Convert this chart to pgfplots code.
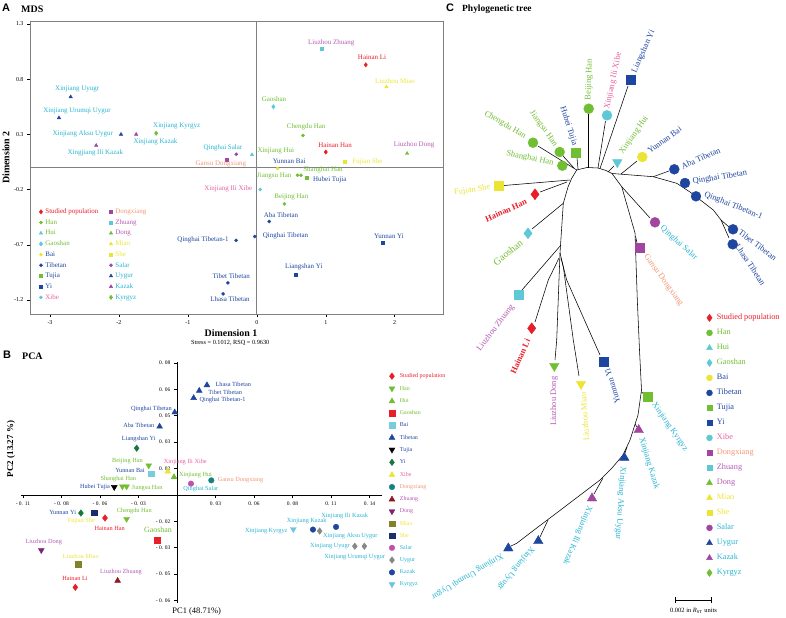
\documentclass[border=0pt]{standalone}
\usepackage{fontspec}
\setmainfont{Liberation Serif}
\newfontfamily\arialfont{Liberation Sans}
\usepackage{pgfplots}
\pgfplotsset{compat=1.18}
\newcommand{\fs}[1]{\fontsize{#1}{#1}\selectfont}
\definecolor{cRed}{RGB}{232,30,40}
\definecolor{cGreen}{RGB}{112,190,50}
\definecolor{cCyan}{RGB}{95,200,215}
\definecolor{cYellow}{RGB}{236,228,50}
\definecolor{cBlue}{RGB}{30,70,160}
\definecolor{cPurple}{RGB}{160,70,160}
\definecolor{tPink}{RGB}{232,96,160}
\definecolor{tSalmon}{RGB}{240,150,120}
\definecolor{tOrchid}{RGB}{180,90,180}
\definecolor{tCyan}{RGB}{40,180,210}
\definecolor{pDkGreen}{RGB}{20,120,60}
\definecolor{pTeal}{RGB}{20,130,130}
\definecolor{pDkRed}{RGB}{140,25,35}
\definecolor{pViolet}{RGB}{120,35,120}
\definecolor{pOlive}{RGB}{130,130,40}
\definecolor{pNavy}{RGB}{30,45,110}
\definecolor{pMagenta}{RGB}{190,80,180}
\definecolor{pGray}{RGB}{135,135,135}
\definecolor{pLtBlue}{RGB}{110,195,225}
\definecolor{pBai}{RGB}{120,205,220}
\tikzset{
  lab/.style={font=\fs{7}, inner sep=0pt},
  plab/.style={font=\fs{6.3}, inner sep=0pt},
  tl/.style={font=\fs{8.5}, inner sep=0.5bp},
}
\pgfplotsset{
 mdsStud/.style={color=cRed, mark=diamond*, mark size=2.2},
 mdsHan/.style={color=cGreen, mark=*, mark size=1.6},
 mdsHui/.style={color=cCyan, mark=triangle*, mark size=2},
 mdsGao/.style={color=cCyan, mark=diamond*, mark size=2.2},
 mdsBai/.style={color=cYellow, mark=*, mark size=1.6},
 mdsTib/.style={color=cBlue, mark=*, mark size=1.6},
 mdsTuj/.style={color=cGreen, mark=square*, mark size=1.5},
 mdsYi/.style={color=cBlue, mark=square*, mark size=1.5},
 mdsXib/.style={color=cCyan, mark=*, mark size=1.6},
 mdsDxg/.style={color=cPurple, mark=square*, mark size=1.5},
 mdsZhu/.style={color=cCyan, mark=square*, mark size=1.5},
 mdsDon/.style={color=cGreen, mark=triangle*, mark size=2},
 mdsMia/.style={color=cYellow, mark=triangle*, mark size=2},
 mdsShe/.style={color=cYellow, mark=square*, mark size=1.5},
 mdsSal/.style={color=cPurple, mark=*, mark size=1.6},
 mdsUyg/.style={color=cBlue, mark=triangle*, mark size=2},
 mdsKaz/.style={color=cPurple, mark=triangle*, mark size=2},
 mdsKyr/.style={color=cGreen, mark=diamond*, mark size=2.2},
 pStud/.style={color=cRed, mark=diamond*, mark size=3.3},
 pHan/.style={color=cGreen, mark=triangle*, mark size=3.4, mark options={rotate=180}},
 pHui/.style={color=cGreen, mark=triangle*, mark size=3.4},
 pGao/.style={color=cRed, mark=square*, mark size=2.8},
 pBai/.style={color=pBai, mark=square*, mark size=2.8},
 pTib/.style={color=cBlue, mark=triangle*, mark size=3.4},
 pTuj/.style={color=black, mark=triangle*, mark size=3.4, mark options={rotate=180}},
 pYi/.style={color=pDkGreen, mark=diamond*, mark size=3.3},
 pXib/.style={color=cYellow, mark=triangle*, mark size=3.4},
 pDxg/.style={color=pTeal, mark=*, mark size=2.8},
 pZhu/.style={color=pDkRed, mark=triangle*, mark size=3.4},
 pDon/.style={color=pViolet, mark=triangle*, mark size=3.4, mark options={rotate=180}},
 pMia/.style={color=pOlive, mark=square*, mark size=2.8},
 pShe/.style={color=pNavy, mark=square*, mark size=2.8},
 pSal/.style={color=pMagenta, mark=*, mark size=2.8},
 pUyg/.style={color=pGray, mark=diamond*, mark size=3.3},
 pKaz/.style={color=cBlue, mark=*, mark size=2.8},
 pKyr/.style={color=pLtBlue, mark=triangle*, mark size=3.4, mark options={rotate=180}},
 tStud/.style={color=cRed, mark=diamond*, mark size=5.5},
 tHan/.style={color=cGreen, mark=*, mark size=5},
 tHui/.style={color=cCyan, mark=triangle*, mark size=5.5, mark options={rotate=180}},
 tGao/.style={color=cCyan, mark=diamond*, mark size=5.5},
 tBai/.style={color=cYellow, mark=*, mark size=5},
 tTib/.style={color=cBlue, mark=*, mark size=5},
 tTuj/.style={color=cGreen, mark=square*, mark size=4.5},
 tYi/.style={color=cBlue, mark=square*, mark size=4.5},
 tXib/.style={color=cCyan, mark=*, mark size=5},
 tDxg/.style={color=cPurple, mark=square*, mark size=4.5},
 tZhu/.style={color=cCyan, mark=square*, mark size=4.5},
 tDon/.style={color=cGreen, mark=triangle*, mark size=5.5, mark options={rotate=180}},
 tMia/.style={color=cYellow, mark=triangle*, mark size=5.5, mark options={rotate=180}},
 tShe/.style={color=cYellow, mark=square*, mark size=4.5},
 tSal/.style={color=cPurple, mark=*, mark size=5},
 tUyg/.style={color=cBlue, mark=triangle*, mark size=5.5},
 tKaz/.style={color=cPurple, mark=triangle*, mark size=5.5},
 tKyr/.style={color=cGreen, mark=square*, mark size=4.5},
 lStud/.style={color=cRed, mark=diamond*, mark size=3.6},
 lHan/.style={color=cGreen, mark=*, mark size=3},
 lHui/.style={color=cCyan, mark=triangle*, mark size=3.4},
 lGao/.style={color=cCyan, mark=diamond*, mark size=3.6},
 lBai/.style={color=cYellow, mark=*, mark size=3},
 lTib/.style={color=cBlue, mark=*, mark size=3},
 lTuj/.style={color=cGreen, mark=square*, mark size=2.8},
 lYi/.style={color=cBlue, mark=square*, mark size=2.8},
 lXib/.style={color=cCyan, mark=*, mark size=3},
 lDxg/.style={color=cPurple, mark=square*, mark size=2.8},
 lZhu/.style={color=cCyan, mark=square*, mark size=2.8},
 lDon/.style={color=cGreen, mark=triangle*, mark size=3.4},
 lMia/.style={color=cYellow, mark=triangle*, mark size=3.4},
 lShe/.style={color=cYellow, mark=square*, mark size=2.8},
 lSal/.style={color=cPurple, mark=*, mark size=3},
 lUyg/.style={color=cBlue, mark=triangle*, mark size=3.4},
 lKaz/.style={color=cPurple, mark=triangle*, mark size=3.4},
 lKyr/.style={color=cGreen, mark=diamond*, mark size=3.6},
 br/.style={black, line width=0.55bp, forget plot, mark=none},
}
\begin{document}
\begin{tikzpicture}[x=1bp,y=1bp]
\useasboundingbox (0bp,0bp) rectangle (786bp,618bp);
% ---------------- A: MDS ----------------
\begin{axis}[
  at={(30bp,304bp)}, anchor=south west, scale only axis, width=413bp, height=293bp,
  xmin=-3.29, xmax=2.70, ymin=-1.327, ymax=1.327,
  xtick={-3,-2,-1,0,1,2}, ytick={-1.2,-0.7,-0.2,0.3,0.8,1.3},
  tick align=outside, tick pos=left, major tick length=3bp,
  axis line style={draw=gray, line width=0.9bp},
  tick style={black, line width=0.5bp},
  /pgf/number format/assume math mode=true,
  ticklabel style={font=\fs{6}},
  yticklabel style={/pgf/number format/.cd, fixed, fixed zerofill, precision=1},
  clip=false,
  legend columns=9, transpose legend, legend cell align=left,
  legend image code/.code={\draw[#1] plot coordinates {(0bp,0bp)};},
  legend style={at={(axis cs:-3.159,-0.370)}, anchor=north west, draw=none, fill=none,
    font=\fs{7}, row sep=4.2bp, inner sep=0pt,
    nodes={inner sep=0pt, text height=5bp, text depth=1.5bp},
    /tikz/every odd column/.append style={column sep=2.7bp},
    /tikz/every even column/.append style={column sep=11bp}},
]
\addplot[gray, line width=0.9bp, forget plot] coordinates {(0,-1.327) (0,1.327)};
\addplot[gray, line width=0.9bp, forget plot] coordinates {(-3.29,0) (2.70,0)};
\addplot[only marks, mdsStud, forget plot] coordinates {(1.00,0.14) (1.58,0.93)};
\addplot[only marks, mdsHan, forget plot] coordinates {(0.67,0.29) (0.64,-0.07) (0.59,-0.07) (0.40,-0.33)};
\addplot[only marks, mdsHui, forget plot] coordinates {(-0.07,0.115)};
\addplot[only marks, mdsGao, forget plot] coordinates {(0.24,0.55)};
\addplot[only marks, mdsBai, forget plot] coordinates {(0.30,-0.01)};
\addplot[only marks, mdsTib, forget plot] coordinates {(0.18,-0.49) (-0.03,-0.625) (-0.30,-0.66) (-0.42,-1.045) (-0.49,-1.145)};
\addplot[only marks, mdsTuj, forget plot] coordinates {(0.73,-0.095)};
\addplot[only marks, mdsYi, forget plot] coordinates {(1.83,-0.68) (0.57,-0.97)};
\addplot[only marks, mdsXib, forget plot] coordinates {(0.05,-0.20)};
\addplot[only marks, mdsDxg, forget plot] coordinates {(-0.44,0.075)};
\addplot[only marks, mdsZhu, forget plot] coordinates {(0.94,1.075)};
\addplot[only marks, mdsDon, forget plot] coordinates {(2.18,0.127)};
\addplot[only marks, mdsMia, forget plot] coordinates {(1.88,0.73)};
\addplot[only marks, mdsShe, forget plot] coordinates {(1.28,0.05)};
\addplot[only marks, mdsSal, forget plot] coordinates {(-0.30,0.12)};
\addplot[only marks, mdsUyg, forget plot] coordinates {(-2.70,0.64) (-2.87,0.45) (-1.97,0.30)};
\addplot[only marks, mdsKaz, forget plot] coordinates {(-2.33,0.20) (-1.75,0.30)};
\addplot[only marks, mdsKyr, forget plot] coordinates {(-1.46,0.31)};
\addlegendimage{mdsStud}\addlegendentry{\textcolor{cRed}{Studied population}}
\addlegendimage{mdsHan}\addlegendentry{\textcolor{cGreen}{Han}}
\addlegendimage{mdsHui}\addlegendentry{\textcolor{cGreen}{Hui}}
\addlegendimage{mdsGao}\addlegendentry{\textcolor{cGreen}{Gaoshan}}
\addlegendimage{mdsBai}\addlegendentry{\textcolor{cBlue}{Bai}}
\addlegendimage{mdsTib}\addlegendentry{\textcolor{cBlue}{Tibetan}}
\addlegendimage{mdsTuj}\addlegendentry{\textcolor{cBlue}{Tujia}}
\addlegendimage{mdsYi}\addlegendentry{\textcolor{cBlue}{Yi}}
\addlegendimage{mdsXib}\addlegendentry{\textcolor{tPink}{Xibe}}
\addlegendimage{mdsDxg}\addlegendentry{\textcolor{tSalmon}{Dongxiang}}
\addlegendimage{mdsZhu}\addlegendentry{\textcolor{tOrchid}{Zhuang}}
\addlegendimage{mdsDon}\addlegendentry{\textcolor{tOrchid}{Dong}}
\addlegendimage{mdsMia}\addlegendentry{\textcolor{cYellow}{Miao}}
\addlegendimage{mdsShe}\addlegendentry{\textcolor{cYellow}{She}}
\addlegendimage{mdsSal}\addlegendentry{\textcolor{tCyan}{Salar}}
\addlegendimage{mdsUyg}\addlegendentry{\textcolor{tCyan}{Uygur}}
\addlegendimage{mdsKaz}\addlegendentry{\textcolor{tCyan}{Kazak}}
\addlegendimage{mdsKyr}\addlegendentry{\textcolor{tCyan}{Kyrgyz}}
\end{axis}
% ---------------- B: PCA ----------------
\begin{axis}[
  at={(21bp,15bp)}, anchor=south west, scale only axis, width=360.7bp, height=241bp,
  xmin=-0.1114, xmax=0.1462, ymin=-0.0655, ymax=0.0805,
  axis lines=middle, axis line style={-, black, line width=0.5bp},
  scaled ticks=false,
  xtick={-0.11,-0.0825,-0.055,-0.0275,0.0275,0.055,0.0825,0.11,0.1375},
  xticklabels={- 0. 11,- 0. 08,- 0. 06,- 0. 03,0. 03,0. 06,0. 08,0. 11,0. 14},
  ytick={-0.064,-0.048,-0.032,-0.016,0.016,0.032,0.048,0.064,0.08},
  yticklabels={- 0. 06,- 0. 05,- 0. 03,- 0. 02,0. 02,0. 03,0. 05,0. 06,0. 08},
  tick align=outside, major tick length=3bp, tick style={black, line width=0.5bp},
  ticklabel style={font=\fs{5.5}},
  clip=false,
  legend cell align=left,
  legend image code/.code={\draw[#1] plot coordinates {(0bp,0bp)};},
  legend style={at={(axis cs:0.1513,0.0740)}, anchor=north west, draw=none, fill=none,
    font=\fs{6}, row sep=6bp, inner sep=0pt,
    nodes={inner sep=0pt, text height=4.5bp, text depth=1.5bp},
    /tikz/every odd column/.append style={column sep=5bp}},
]
\addplot[only marks, pStud, forget plot] coordinates {(-0.0514,-0.014) (-0.0726,-0.056)};
\addplot[only marks, pHan, forget plot] coordinates {(-0.0202,0.0178) (-0.039,0.0051) (-0.036,0.0051) (-0.036,-0.0146)};
\addplot[only marks, pHui, forget plot] coordinates {(-0.0021,0.0108)};
\addplot[only marks, pGao, forget plot] coordinates {(-0.0141,-0.0275)};
\addplot[only marks, pBai, forget plot] coordinates {(-0.0186,0.0128)};
\addplot[only marks, pTib, forget plot] coordinates {(0.0214,0.0665) (0.0159,0.0631) (0.0119,0.0587) (-0.0016,0.050) (-0.0124,0.0414)};
\addplot[only marks, pTuj, forget plot] coordinates {(-0.0448,0.0047)};
\addplot[only marks, pYi, forget plot] coordinates {(-0.0288,0.0283) (-0.0686,-0.011)};
\addplot[only marks, pXib, forget plot] coordinates {(-0.0066,0.0142)};
\addplot[only marks, pDxg, forget plot] coordinates {(0.0245,0.0088)};
\addplot[only marks, pZhu, forget plot] coordinates {(-0.0424,-0.052)};
\addplot[only marks, pDon, forget plot] coordinates {(-0.0969,-0.0335)};
\addplot[only marks, pMia, forget plot] coordinates {(-0.0707,-0.042)};
\addplot[only marks, pShe, forget plot] coordinates {(-0.0593,-0.0108)};
\addplot[only marks, pSal, forget plot] coordinates {(0.010,0.0068)};
\addplot[only marks, pUyg, forget plot] coordinates {(0.1019,-0.0219) (0.127,-0.0311) (0.1338,-0.0311)};
\addplot[only marks, pKaz, forget plot] coordinates {(0.0971,-0.021) (0.1136,-0.0194)};
\addplot[only marks, pKyr, forget plot] coordinates {(0.0831,-0.0208)};
\addlegendimage{pStud}\addlegendentry{\textcolor{cRed}{Studied population}}
\addlegendimage{pHan}\addlegendentry{\textcolor{cGreen}{Han}}
\addlegendimage{pHui}\addlegendentry{\textcolor{cGreen}{Hui}}
\addlegendimage{pGao}\addlegendentry{\textcolor{cGreen}{Gaoshan}}
\addlegendimage{pBai}\addlegendentry{\textcolor{cBlue}{Bai}}
\addlegendimage{pTib}\addlegendentry{\textcolor{cBlue}{Tibetan}}
\addlegendimage{pTuj}\addlegendentry{\textcolor{cBlue}{Tujia}}
\addlegendimage{pYi}\addlegendentry{\textcolor{cBlue}{Yi}}
\addlegendimage{pXib}\addlegendentry{\textcolor{tPink}{Xibe}}
\addlegendimage{pDxg}\addlegendentry{\textcolor{tSalmon}{Dongxiang}}
\addlegendimage{pZhu}\addlegendentry{\textcolor{tOrchid}{Zhuang}}
\addlegendimage{pDon}\addlegendentry{\textcolor{tOrchid}{Dong}}
\addlegendimage{pMia}\addlegendentry{\textcolor{cYellow}{Miao}}
\addlegendimage{pShe}\addlegendentry{\textcolor{cYellow}{She}}
\addlegendimage{pSal}\addlegendentry{\textcolor{tCyan}{Salar}}
\addlegendimage{pUyg}\addlegendentry{\textcolor{tCyan}{Uygur}}
\addlegendimage{pKaz}\addlegendentry{\textcolor{tCyan}{Kazak}}
\addlegendimage{pKyr}\addlegendentry{\textcolor{tCyan}{Kyrgyz}}
\end{axis}
% ---------------- canvas: C tree + all texts ----------------
\begin{axis}[
  at={(0bp,0bp)}, anchor=south west, scale only axis, width=786bp, height=618bp,
  xmin=0, xmax=786, ymin=0, ymax=618, y dir=reverse, hide axis, clip=false,
  legend cell align=left,
  legend image code/.code={\draw[#1] plot coordinates {(0bp,0bp)};},
  legend style={at={(axis cs:706.3,313.7)}, anchor=north west, draw=none, fill=none,
    font=\fs{8.3}, row sep=7bp, inner sep=0pt,
    nodes={inner sep=0pt, text height=6bp, text depth=2bp},
    /tikz/every odd column/.append style={column sep=4.4bp}},
]
% tree branches
\addplot[br] coordinates {(560,253) (563.3,203.3) (568,187) (571.7,178.3) (576.7,170) (587,167.5) (598,168) (606,170.5) (612,173.5) (621.7,186.7) (635,233) (637.3,300) (639.5,350) (641.5,390) (638,415) (630,440) (623,455) (612,468) (600,480) (580,495.2) (560,510.4) (538,527) (516.7,543.3) (511,546)};
\addplot[br] coordinates {(612,173.5) (653.3,176.7) (676.7,183.3) (690,192) (713.3,210) (721,220) (729,227)};
\addplot[br] coordinates {(721,220) (729,238)};
\addplot[br] coordinates {(653.3,176.7) (669,171)};
\addplot[br] coordinates {(608,172) (614,166)};
\addplot[br] coordinates {(621,174) (637,161)};
\addplot[br] coordinates {(621.7,186.7) (650,218)};
\addplot[br] coordinates {(635.5,236) (637,243)};
\addplot[br] coordinates {(600,168.5) (628,86)};
\addplot[br] coordinates {(598,168) (605.5,121)};
\addplot[br] coordinates {(588.7,167.6) (588.7,114)};
\addplot[br] coordinates {(578,169) (577,158)};
\addplot[br] coordinates {(574,168) (563,156)};
\addplot[br] coordinates {(576.7,170) (538,146)};
\addplot[br] coordinates {(570,180) (504,185.5)};
\addplot[br] coordinates {(567,182) (540,192)};
\addplot[br] coordinates {(563.3,203.3) (532,229)};
\addplot[br] coordinates {(561,245) (522,290)};
\addplot[br] coordinates {(559,258) (548.3,280) (535,322)};
\addplot[br] coordinates {(560,253) (556.7,340) (555,360)};
\addplot[br] coordinates {(560,253) (563.3,266.7) (573.3,340) (579,376)};
\addplot[br] coordinates {(561,258) (566.7,280) (593.3,340) (600,355)};
\addplot[br] coordinates {(641.5,392) (645,395)};
\addplot[br] coordinates {(635,424) (637,427)};
\addplot[br] coordinates {(627,447) (625,453)};
\addplot[br] coordinates {(603,478) (594,494)};
\addplot[br] coordinates {(548,520) (540,537)};
% scale bar
\addplot[br] coordinates {(675.7,600) (711.7,600)};
\addplot[br] coordinates {(675.7,597) (675.7,603)};
\addplot[br] coordinates {(711.7,597) (711.7,603)};
% tree tips
\addplot[only marks, tStud, forget plot] coordinates {(535,194.3) (531.7,328.3)};
\addplot[only marks, tHan, forget plot] coordinates {(588.7,108.7) (559.7,152) (533,142.7) (562.3,165.7)};
\addplot[only marks, tHui, forget plot] coordinates {(617.3,162.3)};
\addplot[only marks, tGao, forget plot] coordinates {(528,233.3)};
\addplot[only marks, tBai, forget plot] coordinates {(642.3,157)};
\addplot[only marks, tTib, forget plot] coordinates {(674.3,169.3) (685,183) (696,196.3) (733,229.3) (732.7,244.3)};
\addplot[only marks, tTuj, forget plot] coordinates {(575.7,152.3)};
\addplot[only marks, tYi, forget plot] coordinates {(631,79.3) (603.7,361.3)};
\addplot[only marks, tXib, forget plot] coordinates {(607,115.3)};
\addplot[only marks, tDxg, forget plot] coordinates {(640,247.7)};
\addplot[only marks, tZhu, forget plot] coordinates {(518.3,294.7)};
\addplot[only marks, tDon, forget plot] coordinates {(554.3,366)};
\addplot[only marks, tMia, forget plot] coordinates {(581,384)};
\addplot[only marks, tShe, forget plot] coordinates {(498.7,186)};
\addplot[only marks, tSal, forget plot] coordinates {(655,222.3)};
\addplot[only marks, tUyg, forget plot] coordinates {(624.3,457.7) (538.3,541) (508.3,548.3)};
\addplot[only marks, tKaz, forget plot] coordinates {(638.7,430) (592,498.3)};
\addplot[only marks, tKyr, forget plot] coordinates {(647.3,396.7)};
\addlegendimage{lStud}\addlegendentry{\textcolor{cRed}{Studied population}}
\addlegendimage{lHan}\addlegendentry{\textcolor{cGreen}{Han}}
\addlegendimage{lHui}\addlegendentry{\textcolor{cGreen}{Hui}}
\addlegendimage{lGao}\addlegendentry{\textcolor{cGreen}{Gaoshan}}
\addlegendimage{lBai}\addlegendentry{\textcolor{cBlue}{Bai}}
\addlegendimage{lTib}\addlegendentry{\textcolor{cBlue}{Tibetan}}
\addlegendimage{lTuj}\addlegendentry{\textcolor{cBlue}{Tujia}}
\addlegendimage{lYi}\addlegendentry{\textcolor{cBlue}{Yi}}
\addlegendimage{lXib}\addlegendentry{\textcolor{tPink}{Xibe}}
\addlegendimage{lDxg}\addlegendentry{\textcolor{tSalmon}{Dongxiang}}
\addlegendimage{lZhu}\addlegendentry{\textcolor{tOrchid}{Zhuang}}
\addlegendimage{lDon}\addlegendentry{\textcolor{tOrchid}{Dong}}
\addlegendimage{lMia}\addlegendentry{\textcolor{cYellow}{Miao}}
\addlegendimage{lShe}\addlegendentry{\textcolor{cYellow}{She}}
\addlegendimage{lSal}\addlegendentry{\textcolor{tCyan}{Salar}}
\addlegendimage{lUyg}\addlegendentry{\textcolor{tCyan}{Uygur}}
\addlegendimage{lKaz}\addlegendentry{\textcolor{tCyan}{Kazak}}
\addlegendimage{lKyr}\addlegendentry{\textcolor{tCyan}{Kyrgyz}}
% tree labels
\node[tl, cBlue, rotate=66, anchor=west] at (axis cs:634,73) {Liangshan Yi};
\node[tl, tPink, rotate=78, anchor=west] at (axis cs:607,110) {Xinjiang Ili Xibe};
\node[tl, cGreen, rotate=88, anchor=west] at (axis cs:588.5,101) {Beijing Han};
\node[tl, cBlue, rotate=-72, anchor=east] at (axis cs:575,146) {Hubei Tujia};
\node[tl, cGreen, rotate=-54, anchor=east] at (axis cs:556,146) {Jiangsu Han};
\node[tl, cGreen, rotate=-30, anchor=east] at (axis cs:526,137) {Chengdu Han};
\node[tl, cGreen, rotate=-11, anchor=east] at (axis cs:554,163) {Shanghai Han};
\node[tl, cGreen, rotate=55, anchor=west] at (axis cs:621,154) {Xinjiang Hui};
\node[tl, cBlue, rotate=36, anchor=west] at (axis cs:648,152) {Yunnan Bai};
\node[tl, cBlue, rotate=24, anchor=west] at (axis cs:681,167) {Aba Tibetan};
\node[tl, cBlue, rotate=9, anchor=west] at (axis cs:692,182) {Qinghai Tibetan};
\node[tl, cBlue, rotate=-22, anchor=west] at (axis cs:704,194) {Qinghai Tibetan-1};
\node[tl, cBlue, rotate=-37, anchor=west] at (axis cs:739,231) {Tibet Tibetan};
\node[tl, cBlue, rotate=-57, anchor=west] at (axis cs:737,244) {Lhasa Tibetan};
\node[tl, tCyan, rotate=-42, anchor=west] at (axis cs:661,227) {Qinghai Salar};
\node[tl, tSalmon, rotate=-54, anchor=west] at (axis cs:645,255) {Gansu Dongxiang};
\node[tl, cYellow, rotate=9, anchor=east] at (axis cs:491,187) {Fujian She};
\node[tl, cRed, rotate=24, anchor=east] at (axis cs:527,201) {\bfseries Hainan Han};
\node[tl, cGreen, rotate=39, anchor=east] at (axis cs:522,241) {\fs{10}Gaoshan};
\node[tl, tOrchid, rotate=53, anchor=east] at (axis cs:513,305) {Liuzhou Zhuang};
\node[tl, cRed, rotate=66, anchor=east] at (axis cs:528,339) {\bfseries Hainan Li};
\node[tl, tOrchid, rotate=90, anchor=east] at (axis cs:554,376) {Liuzhou Dong};
\node[tl, cYellow, rotate=94, anchor=east] at (axis cs:583,392) {Liuzhou Miao};
\node[tl, cBlue, rotate=107, anchor=east] at (axis cs:607,368) {Yunnan Yi};
\node[tl, tCyan, rotate=-55, anchor=west] at (axis cs:653,403) {Xinjiang Kyrgyz};
\node[tl, tCyan, rotate=-73, anchor=west] at (axis cs:641,437) {Xinjiang Kazak};
\node[tl, tCyan, rotate=-94, anchor=west] at (axis cs:623,466) {Xinjiang Aksu Uygur};
\node[tl, tCyan, rotate=-113, anchor=west] at (axis cs:590,506) {Xinjiang Ili Kazak};
\node[tl, tCyan, rotate=-129, anchor=west] at (axis cs:533,547) {Xinjiang Uyugr};
\node[tl, tCyan, rotate=-149, anchor=west] at (axis cs:503,555) {Xinjiang Urumqi Uygur};
\node[inner sep=0pt] at (axis cs:693.5,611) {\fs{6.5}0.002 in \textit{R}\textsubscript{ST} units};
% MDS labels
\node[lab, tCyan] at (axis cs:77.2,89) {Xinjiang Uyugr};
\node[lab, tCyan] at (axis cs:77,111) {Xinjiang Urumqi Uygur};
\node[lab, tCyan] at (axis cs:82.8,134) {Xinjiang Aksu Uygur};
\node[lab, tCyan] at (axis cs:155.5,142.3) {Xinjiang Kazak};
\node[lab, tCyan] at (axis cs:95.3,152.7) {Xingjiang Ili Kazak};
\node[lab, tCyan] at (axis cs:176.7,126) {Xinjiang Kyrgyz};
\node[lab, tCyan] at (axis cs:223,148.3) {Qinghai Salar};
\node[lab, tSalmon] at (axis cs:220.8,164) {Gansu Dongxiang};
\node[lab, cGreen] at (axis cs:275.8,150.7) {Xinjiang Hui};
\node[lab, tOrchid] at (axis cs:331.3,42.7) {Liuzhou Zhuang};
\node[lab, cRed] at (axis cs:372,57.3) {Hainan Li};
\node[lab, cYellow] at (axis cs:395,80.7) {Liuzhou Miao};
\node[lab, cGreen] at (axis cs:274,98.7) {Gaoshan};
\node[lab, cGreen] at (axis cs:306.2,127.3) {Chengdu Han};
\node[lab, cRed] at (axis cs:335,145.3) {Hainan Han};
\node[lab, cYellow] at (axis cs:367.5,162) {Fujian She};
\node[lab, tOrchid] at (axis cs:414,145) {Liuzhou Dong};
\node[lab, cBlue] at (axis cs:289.2,161.7) {Yunnan Bai};
\node[lab, cGreen] at (axis cs:323,170) {Shanghai Han};
\node[lab, cGreen] at (axis cs:274.3,176) {Jiangsu Han};
\node[lab, cBlue] at (axis cs:329.8,179.7) {Hubei Tujia};
\node[lab, tPink] at (axis cs:228.3,189.3) {Xinjiang Ili Xibe};
\node[lab, cGreen] at (axis cs:291.3,197.3) {Beijing Han};
\node[lab, cBlue] at (axis cs:281,215) {Aba Tibetan};
\node[lab, cBlue] at (axis cs:285.5,236) {Qinghai Tibetan};
\node[lab, cBlue] at (axis cs:203,240) {Qinghai Tibetan-1};
\node[lab, cBlue] at (axis cs:389,236) {Yunnan Yi};
\node[lab, cBlue] at (axis cs:303.8,267.3) {Liangshan Yi};
\node[lab, cBlue] at (axis cs:231.3,275.7) {Tibet Tibetan};
\node[lab, cBlue] at (axis cs:230,298.7) {Lhasa Tibetan};
% PCA labels
\node[plab, cBlue] at (axis cs:233.3,384.3) {Lhasa Tibetan};
\node[plab, cBlue] at (axis cs:225.2,392.7) {Tibet Tibetan};
\node[plab, cBlue] at (axis cs:222.5,400) {Qinghai Tibetan-1};
\node[plab, cBlue] at (axis cs:151.5,409) {Qinghai Tibetan};
\node[plab, cBlue] at (axis cs:138.8,425.7) {Aba Tibetan};
\node[plab, cBlue] at (axis cs:138.8,439) {Liangshan Yi};
\node[plab, cGreen] at (axis cs:127.5,461) {Beijing Han};
\node[plab, tPink] at (axis cs:185.3,462.3) {Xinjiang Ili Xibe};
\node[plab, cBlue] at (axis cs:130,470.7) {Yunnan Bai};
\node[plab, cGreen] at (axis cs:195.5,474.7) {Xinjiang Hui};
\node[plab, tSalmon] at (axis cs:240.5,480) {Gansu Dongxiang};
\node[plab, tCyan] at (axis cs:200.8,489.3) {Qinghai Salar};
\node[plab, cGreen] at (axis cs:118.3,479) {Shanghai Han};
\node[plab, cGreen] at (axis cs:147,487.7) {Jiangsu Han};
\node[plab, cBlue] at (axis cs:95,486.7) {Hubei Tujia};
\node[plab, cBlue] at (axis cs:62.7,512.3) {Yunnan Yi};
\node[plab, cYellow] at (axis cs:81.3,521) {Fujian She};
\node[plab, cRed] at (axis cs:109.7,528.3) {Hainan Han};
\node[plab, cGreen] at (axis cs:134.3,510.7) {Chengdu Han};
\node[plab, cGreen, font=\fs{8}] at (axis cs:158,530) {Gaoshan};
\node[plab, tOrchid] at (axis cs:43.8,542.3) {Liuzhou Dong};
\node[plab, cYellow] at (axis cs:80.8,556) {Liuzhou Miao};
\node[plab, tOrchid] at (axis cs:121,572.3) {Liuzhou Zhuang};
\node[plab, cRed] at (axis cs:75,578.3) {Hainan Li};
\node[plab, tCyan] at (axis cs:306.7,521) {Xinjiang Kazak};
\node[plab, tCyan] at (axis cs:266.3,531) {Xinjiang Kyrgyz};
\node[plab, tCyan] at (axis cs:344.7,516) {Xinjiang Ili Kazak};
\node[plab, tCyan] at (axis cs:350.3,536) {Xinjiang Aksu Uygur};
\node[plab, tCyan] at (axis cs:330,546) {Xinjiang Uyugr};
\node[plab, tCyan] at (axis cs:354.7,556.7) {Xinjiang Urumqi Uygur};
% titles and axis titles
\node[anchor=west, inner sep=0pt] at (axis cs:2,8) {\arialfont\bfseries\fs{11}A};
\node[anchor=west, inner sep=0pt] at (axis cs:21,9) {\bfseries\fs{10}MDS};
\node[anchor=west, inner sep=0pt] at (axis cs:3,355) {\arialfont\bfseries\fs{11}B};
\node[anchor=west, inner sep=0pt] at (axis cs:22,356) {\bfseries\fs{10}PCA};
\node[anchor=west, inner sep=0pt] at (axis cs:446,8) {\arialfont\bfseries\fs{11}C};
\node[anchor=west, inner sep=0pt] at (axis cs:462,9) {\bfseries\fs{9.5}Phylogenetic tree};
\node[inner sep=0pt] at (axis cs:231,333.3) {\bfseries\fs{10}Dimension 1};
\node[inner sep=0pt] at (axis cs:230.2,342.7) {\fs{6.3}Stress = 0.1012, RSQ = 0.9630};
\node[inner sep=0pt, rotate=90] at (axis cs:6,157.5) {\bfseries\fs{10}Dimension 2};
\node[inner sep=0pt] at (axis cs:196.7,611.7) {\fs{8.5}PC1 (48.71\%)};
\node[inner sep=0pt, rotate=90] at (axis cs:11,449) {\bfseries\fs{9}PC2 (13.27 \%)};
\end{axis}
\end{tikzpicture}
\end{document}
